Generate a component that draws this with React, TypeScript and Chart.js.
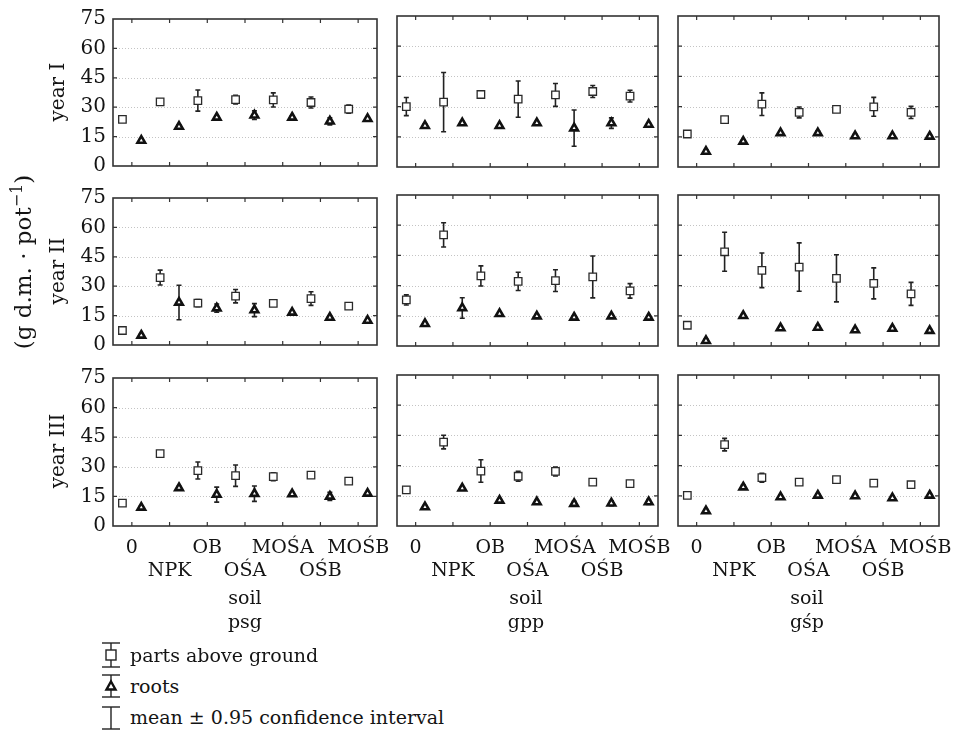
import React, { useEffect, useRef } from "react";
import { Chart, registerables } from "chart.js";
Chart.register(...registerables);

const FONT = "'DejaVu Serif', serif";
const INK = "#141414";

// ---- categories / labels ----
const categories = ["0", "NPK", "OB", "OŚA", "MOŚA", "OŚB", "MOŚB"];
const soils = ["psg", "gpp", "gśp"];
const years = ["year I", "year II", "year III"];
const yTickValues = [0, 15, 30, 45, 60, 75];

// ---- year I ----
const psgI_above = [23.8, 32.7, 33.4, 33.9, 33.7, 32.4, 29.0];
const psgI_aboveCI = [0.8, 0.8, 5.4, 2.2, 3.6, 2.8, 2.1];
const psgI_roots = [13.0, 20.1, 24.8, 25.9, 24.8, 22.8, 24.1];
const psgI_rootsCI = [0.8, 0.8, 0.8, 2.2, 0.8, 1.8, 0.8];

const gppI_above = [30.0, 32.2, 36.0, 33.7, 35.8, 37.5, 35.2];
const gppI_aboveCI = [4.5, 14.7, 1.2, 9.0, 5.7, 3.0, 2.9];
const gppI_roots = [20.5, 21.8, 20.5, 21.8, 19.3, 21.8, 21.1];
const gppI_rootsCI = [0.8, 0.8, 0.8, 0.8, 9.0, 2.6, 0.8];

const gspI_above = [16.4, 23.5, 31.2, 27.1, 28.6, 29.9, 27.1];
const gspI_aboveCI = [0.8, 0.8, 5.6, 2.7, 1.2, 4.7, 3.0];
const gspI_roots = [7.7, 12.7, 16.9, 16.9, 15.4, 15.4, 15.2];
const gspI_rootsCI = [0.8, 0.8, 1.0, 1.0, 0.8, 0.8, 0.8];

// ---- year II ----
const psgII_above = [7.4, 34.4, 21.4, 24.9, 21.2, 23.7, 19.8];
const psgII_aboveCI = [0.8, 3.8, 1.8, 3.4, 0.8, 3.5, 0.8];
const psgII_roots = [4.9, 21.7, 18.8, 17.8, 16.6, 14.0, 12.5];
const psgII_rootsCI = [0.8, 8.8, 2.1, 3.3, 0.8, 0.8, 0.8];

const gppII_above = [22.9, 55.2, 34.8, 32.1, 32.5, 34.3, 27.4];
const gppII_aboveCI = [2.5, 6.0, 5.0, 4.5, 5.4, 10.4, 3.6];
const gppII_roots = [11.0, 18.9, 16.0, 14.8, 14.2, 14.8, 14.2];
const gppII_rootsCI = [0.8, 5.1, 0.8, 0.8, 0.8, 0.8, 0.8];

const gspII_above = [10.3, 46.8, 37.6, 39.2, 33.6, 31.1, 25.9];
const gspII_aboveCI = [0.8, 9.7, 8.6, 12.0, 11.7, 7.7, 5.7];
const gspII_roots = [2.6, 15.0, 8.9, 9.2, 7.9, 8.7, 7.6];
const gspII_rootsCI = [0.8, 0.8, 1.0, 1.0, 0.8, 1.0, 0.8];

// ---- year III ----
const psgIII_above = [11.6, 36.7, 28.1, 25.5, 25.0, 25.8, 22.7];
const psgIII_aboveCI = [0.8, 0.8, 4.3, 5.4, 2.0, 0.8, 0.8];
const psgIII_roots = [9.4, 19.3, 15.9, 16.4, 16.2, 15.0, 16.5];
const psgIII_rootsCI = [0.8, 0.8, 3.8, 3.9, 0.8, 2.1, 0.8];

const gppIII_above = [17.9, 41.7, 27.3, 24.7, 27.1, 21.8, 21.0];
const gppIII_aboveCI = [1.6, 3.4, 5.6, 2.5, 2.2, 0.8, 1.5];
const gppIII_roots = [9.4, 18.7, 12.7, 11.9, 11.1, 11.3, 11.9];
const gppIII_rootsCI = [0.8, 0.8, 0.8, 0.8, 1.2, 1.2, 1.2];

const gspIII_above = [15.2, 40.4, 24.0, 21.8, 23.0, 21.3, 20.5];
const gspIII_aboveCI = [0.8, 3.1, 2.2, 0.8, 0.8, 0.8, 0.8];
const gspIII_roots = [7.4, 19.3, 14.4, 15.2, 14.9, 13.9, 15.2];
const gspIII_rootsCI = [0.8, 1.0, 0.8, 0.8, 0.8, 0.8, 0.8];

const panelData = [
  [
    [psgI_above, psgI_aboveCI, psgI_roots, psgI_rootsCI],
    [gppI_above, gppI_aboveCI, gppI_roots, gppI_rootsCI],
    [gspI_above, gspI_aboveCI, gspI_roots, gspI_rootsCI],
  ],
  [
    [psgII_above, psgII_aboveCI, psgII_roots, psgII_rootsCI],
    [gppII_above, gppII_aboveCI, gppII_roots, gppII_rootsCI],
    [gspII_above, gspII_aboveCI, gspII_roots, gspII_rootsCI],
  ],
  [
    [psgIII_above, psgIII_aboveCI, psgIII_roots, psgIII_rootsCI],
    [gppIII_above, gppIII_aboveCI, gppIII_roots, gppIII_rootsCI],
    [gspIII_above, gspIII_aboveCI, gspIII_roots, gspIII_rootsCI],
  ],
];

// ---- layout ----
const COL_LEFT = [113, 394, 675];
const PLOT_W = 264;
const ROW_TOP = [16, 195, 375];
const PLOT_H = 151;

const errorBarPlugin = {
  id: "errorBars",
  beforeDatasetsDraw(chart: any) {
    const ctx = chart.ctx;
    const ys = chart.scales.y;
    ctx.save();
    ctx.strokeStyle = "#222";
    ctx.lineWidth = 1.6;
    chart.data.datasets.forEach((ds: any, di: number) => {
      const meta = chart.getDatasetMeta(di);
      meta.data.forEach((el: any, i: number) => {
        const v = ds.data[i].y;
        const c = ds.ci[i];
        const x = el.x;
        const yt = ys.getPixelForValue(v + c);
        const yb = ys.getPixelForValue(v - c);
        ctx.beginPath();
        ctx.moveTo(x, yt);
        ctx.lineTo(x, yb);
        ctx.moveTo(x - 2.5, yt);
        ctx.lineTo(x + 2.5, yt);
        ctx.moveTo(x - 2.5, yb);
        ctx.lineTo(x + 2.5, yb);
        ctx.stroke();
      });
    });
    ctx.restore();
  },
};

const framePlugin = {
  id: "frame",
  beforeDatasetsDraw(chart: any) {
    const ctx = chart.ctx;
    const { left, right } = chart.chartArea;
    const ys = chart.scales.y;
    ctx.save();
    ctx.strokeStyle = "#c4c4c4";
    ctx.lineWidth = 1;
    ctx.setLineDash([1, 2]);
    ys.ticks.forEach((t: any) => {
      if (t.value <= 0 || t.value >= 75) return;
      const y = Math.round(ys.getPixelForValue(t.value)) + 0.5;
      ctx.beginPath();
      ctx.moveTo(left, y);
      ctx.lineTo(right, y);
      ctx.stroke();
    });
    ctx.restore();
  },
  afterDraw(chart: any) {
    const ctx = chart.ctx;
    const { left, right, top, bottom } = chart.chartArea;
    const xs = chart.scales.x;
    const ys = chart.scales.y;
    ctx.save();
    ctx.strokeStyle = "#333";
    ctx.lineWidth = 1.6;
    ctx.strokeRect(left, top, right - left, bottom - top);
    ctx.lineWidth = 1.2;
    ctx.beginPath();
    xs.ticks.forEach((t: any) => {
      const x = xs.getPixelForValue(t.value);
      ctx.moveTo(x, bottom);
      ctx.lineTo(x, bottom - 4);
      ctx.moveTo(x, top);
      ctx.lineTo(x, top + 4);
    });
    ys.ticks.forEach((t: any) => {
      if (t.value <= 0 || t.value >= 75) return;
      const y = ys.getPixelForValue(t.value);
      ctx.moveTo(left, y);
      ctx.lineTo(left + 4, y);
      ctx.moveTo(right, y);
      ctx.lineTo(right - 4, y);
    });
    ctx.stroke();
    ctx.restore();
  },
};

function Panel({ row, col }: { row: number; col: number }) {
  const ref = useRef<HTMLCanvasElement>(null);
  const padL = 4;
  const padR = 34;
  const padT = 16;
  const padB = 18;
  const yW = col === 0 ? 52 : 0;
  const xH = row === 2 ? 62 : 0;
  const W = padL + yW + PLOT_W + padR;
  const H = padT + PLOT_H + xH + padB;
  const left = COL_LEFT[col] - padL - yW;
  const top = ROW_TOP[row] - padT;

  useEffect(() => {
    const [above, aboveCI, roots, rootsCI] = panelData[row][col];
    const chart = new Chart(ref.current as HTMLCanvasElement, {
      type: "scatter",
      data: {
        datasets: [
          {
            label: "parts above ground",
            data: above.map((v, i) => ({ x: i - 0.25, y: v })),
            ci: aboveCI,
            pointStyle: "rect",
            pointRadius: 5.3,
            pointBorderWidth: 1.3,
            pointBorderColor: "#2a2a2a",
            pointBackgroundColor: "#ffffff",
            showLine: false,
          } as any,
          {
            label: "roots",
            data: roots.map((v, i) => ({ x: i + 0.25, y: v })),
            ci: rootsCI,
            pointStyle: "triangle",
            pointRadius: 4.4,
            pointBorderWidth: 2.6,
            pointBorderColor: "#111",
            pointBackgroundColor: "#ffffff",
            showLine: false,
          } as any,
        ],
      },
      options: {
        responsive: false,
        animation: false,
        events: [],
        layout: { padding: { left: padL, right: padR, top: padT, bottom: padB } },
        plugins: { legend: { display: false }, tooltip: { enabled: false } },
        scales: {
          x: {
            type: "linear",
            min: -0.5,
            max: 6.5,
            afterBuildTicks: (s: any) => {
              s.ticks = categories.map((_, i) => ({ value: i }));
            },
            afterFit: (s: any) => {
              s.height = xH;
            },
            grid: { display: false, drawTicks: false },
            border: { display: false },
            ticks: {
              display: row === 2,
              autoSkip: false,
              maxRotation: 0,
              minRotation: 0,
              padding: 11,
              color: INK,
              font: { family: FONT, size: 19, lineHeight: 1.2 },
              callback: (v: any) => {
                const i = Math.round(Number(v));
                return i % 2 === 0 ? categories[i] : ["", categories[i]];
              },
            },
          },
          y: {
            type: "linear",
            min: 0,
            max: 75,
            afterBuildTicks: (s: any) => {
              s.ticks = yTickValues.map((v) => ({ value: v }));
            },
            afterFit: (s: any) => {
              s.width = yW;
            },
            grid: { display: false, drawTicks: false },
            border: { display: false },
            ticks: {
              display: col === 0,
              padding: 7,
              color: INK,
              font: { family: FONT, size: 20 },
            },
          },
        },
      } as any,
      plugins: [framePlugin, errorBarPlugin],
    });
    return () => chart.destroy();
  }, []);

  return (
    <canvas
      ref={ref}
      width={W}
      height={H}
      style={{ position: "absolute", left, top, width: W, height: H }}
    />
  );
}

const textBase: React.CSSProperties = {
  position: "absolute",
  fontFamily: FONT,
  fontSize: 19,
  color: INK,
  whiteSpace: "nowrap",
  lineHeight: 1,
};

function Centered({ x, y, rotate, size, children }: any) {
  return (
    <div
      style={{
        ...textBase,
        fontSize: size || 19,
        left: x,
        top: y,
        transform: `translate(-50%, -50%)${rotate ? " rotate(-90deg)" : ""}`,
      }}
    >
      {children}
    </div>
  );
}

function Legend() {
  const cx = 11;
  return (
    <>
      <svg style={{ position: "absolute", left: 100, top: 640 }} width={22} height={30}>
        <g stroke="#222" strokeWidth={1.4} fill="none">
          <line x1={cx} y1={3} x2={cx} y2={27} />
          <line x1={cx - 9} y1={3} x2={cx + 9} y2={3} />
          <line x1={cx - 9} y1={27} x2={cx + 9} y2={27} />
          <rect x={cx - 5} y={10} width={10} height={10} fill="#fff" />
        </g>
      </svg>
      <svg style={{ position: "absolute", left: 100, top: 672 }} width={22} height={30}>
        <g stroke="#222" strokeWidth={1.4} fill="none">
          <line x1={cx} y1={3} x2={cx} y2={25} />
          <line x1={cx - 9} y1={3} x2={cx + 9} y2={3} />
          <line x1={cx - 9} y1={25} x2={cx + 9} y2={25} />
          <polygon
            points={`${cx},9.5 ${cx + 4.5},17.5 ${cx - 4.5},17.5`}
            fill="#fff"
            stroke="#111"
            strokeWidth={2.4}
          />
        </g>
      </svg>
      <svg style={{ position: "absolute", left: 100, top: 704 }} width={22} height={27}>
        <g stroke="#222" strokeWidth={1.4} fill="none">
          <line x1={cx} y1={3} x2={cx} y2={25} />
          <line x1={cx - 9} y1={3} x2={cx + 9} y2={3} />
          <line x1={cx - 9} y1={25} x2={cx + 9} y2={25} />
        </g>
      </svg>
      <div style={{ ...textBase, left: 130, top: 646 }}>parts above ground</div>
      <div style={{ ...textBase, left: 130, top: 677 }}>roots</div>
      <div style={{ ...textBase, left: 130, top: 708 }}>mean ± 0.95 confidence interval</div>
    </>
  );
}

export default function App() {
  const rows = [0, 1, 2];
  const cols = [0, 1, 2];
  return (
    <div
      style={{
        position: "absolute",
        left: 0,
        top: 0,
        width: 958,
        height: 731,
        background: "#fff",
        overflow: "hidden",
      }}
    >
      {rows.map((r) =>
        cols.map((c) => <Panel key={`${r}-${c}`} row={r} col={c} />)
      )}
      {years.map((y, r) => (
        <Centered key={y} x={57} y={ROW_TOP[r] + PLOT_H / 2} rotate size={20}>
          {y}
        </Centered>
      ))}
      <Centered x={22} y={262} rotate size={23}>
        (g d.m. · pot<sup style={{ fontSize: 16, verticalAlign: "9px" }}>−1</sup>)
      </Centered>
      {soils.map((s, c) => (
        <React.Fragment key={s}>
          <Centered x={COL_LEFT[c] + PLOT_W / 2} y={597}>
            soil
          </Centered>
          <Centered x={COL_LEFT[c] + PLOT_W / 2} y={621}>
            {s}
          </Centered>
        </React.Fragment>
      ))}
      <Legend />
    </div>
  );
}
